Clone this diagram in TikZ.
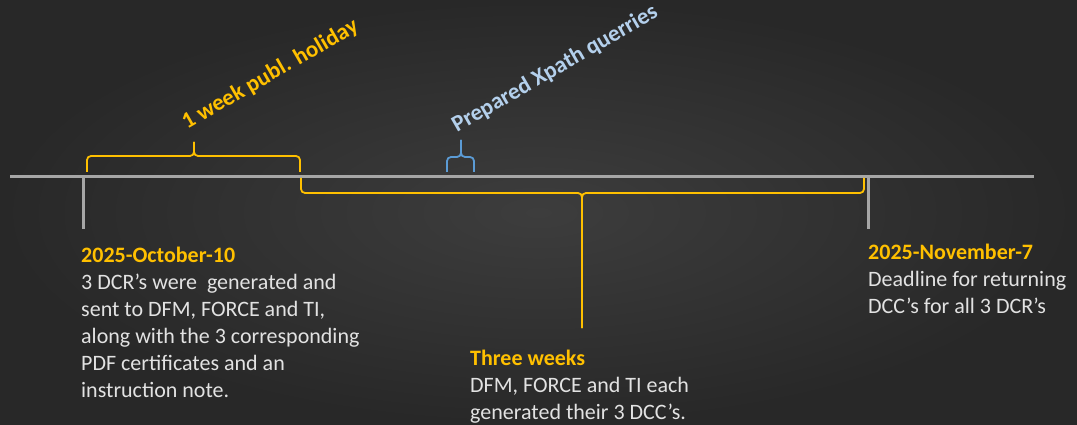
\documentclass[tikz,border=0pt]{standalone}
\usepackage{fontspec}
\setmainfont{Carlito}
\usetikzlibrary{positioning}
\definecolor{Gold}{HTML}{FFC000}
\definecolor{Sky}{HTML}{5B9BD5}
\definecolor{Pale}{HTML}{B4D0EC}
\definecolor{Ash}{HTML}{A6A6A6}
\definecolor{Snow}{HTML}{E2E2E2}
\definecolor{BgIn}{HTML}{3D3D3D}
\definecolor{BgOut}{HTML}{282828}

\begin{document}
\begin{tikzpicture}[x=1pt,y=-1pt,
    axis/.style={Ash,line width=3pt},
    brk/.style={line width=1.8pt,rounded corners=4pt},
    note/.style={align=left,anchor=base west,inner sep=0pt,text=Snow,
      font=\fontsize{22}{27}\selectfont},
    tag/.style={anchor=base west,inner sep=0pt,rotate=30,
      font=\fontsize{23}{27}\selectfont\bfseries}
  ]
  \shade[inner color=BgIn,outer color=BgOut] (0,0) rectangle (1077,425);
  \useasboundingbox (0,0) rectangle (1077,425);

  % timeline and date ticks
  \coordinate (left) at (10,177);
  \coordinate (right) at (1034,177);
  \coordinate (oct) at (83,177);
  \coordinate (octfoot) at (83,229);
  \coordinate (nov) at (868,177);
  \coordinate (novfoot) at (868,229);
  \draw[axis] (left) -- (right);
  \draw[axis] (oct) -- (octfoot);
  \draw[axis] (nov) -- (novfoot);

  % holiday brace
  \coordinate (holA) at (87,172);
  \coordinate (holB) at (300,172);
  \coordinate (holMid) at (194,156);
  \coordinate (holTip) at (194,142);
  \draw[Gold,brk] (holA) |- (holMid) -- (holTip);
  \draw[Gold,brk] (holB) |- (holMid) -- (holTip);

  % xpath brace
  \coordinate (xpA) at (447,172);
  \coordinate (xpB) at (474,172);
  \coordinate (xpMid) at (461,157);
  \coordinate (xpTip) at (461,140);
  \draw[Sky,brk] (xpA) |- (xpMid) -- (xpTip);
  \draw[Sky,brk] (xpB) |- (xpMid) -- (xpTip);

  % three weeks brace
  \coordinate (wkA) at (301,178);
  \coordinate (wkB) at (864,178);
  \coordinate (wkMid) at (582,193);
  \coordinate (wkTip) at (582,328);
  \draw[Gold,brk] (wkA) |- (wkMid) -- (wkTip);
  \draw[Gold,brk] (wkB) |- (wkMid) -- (wkTip);

  \node[tag,text=Gold] (holiday) at (187,130) {1 week publ. holiday};
  \node[tag,text=Pale] (xpath) at (457,133) {Prepared Xpath querries};

  % multi-line notes: anchored at the baseline of their last line
  \node[note] (sent) at (81,397) {\textcolor{Gold}{\bfseries 2025-October-10}\\
    3 DCR’s were\ \ generated and\\
    sent to DFM, FORCE and TI,\\
    along with the 3 corresponding\\
    PDF certificates and an\\
    instruction note.};
  \node[note] (weeks) at (470,419) {\textcolor{Gold}{\bfseries Three weeks}\\
    DFM, FORCE and TI each\\
    generated their 3 DCC’s.};
  \node[note] (deadline) at (868,313) {\textcolor{Gold}{\bfseries 2025-November-7}\\
    Deadline for returning\\
    DCC’s for all 3 DCR’s};
\end{tikzpicture}
\end{document}
